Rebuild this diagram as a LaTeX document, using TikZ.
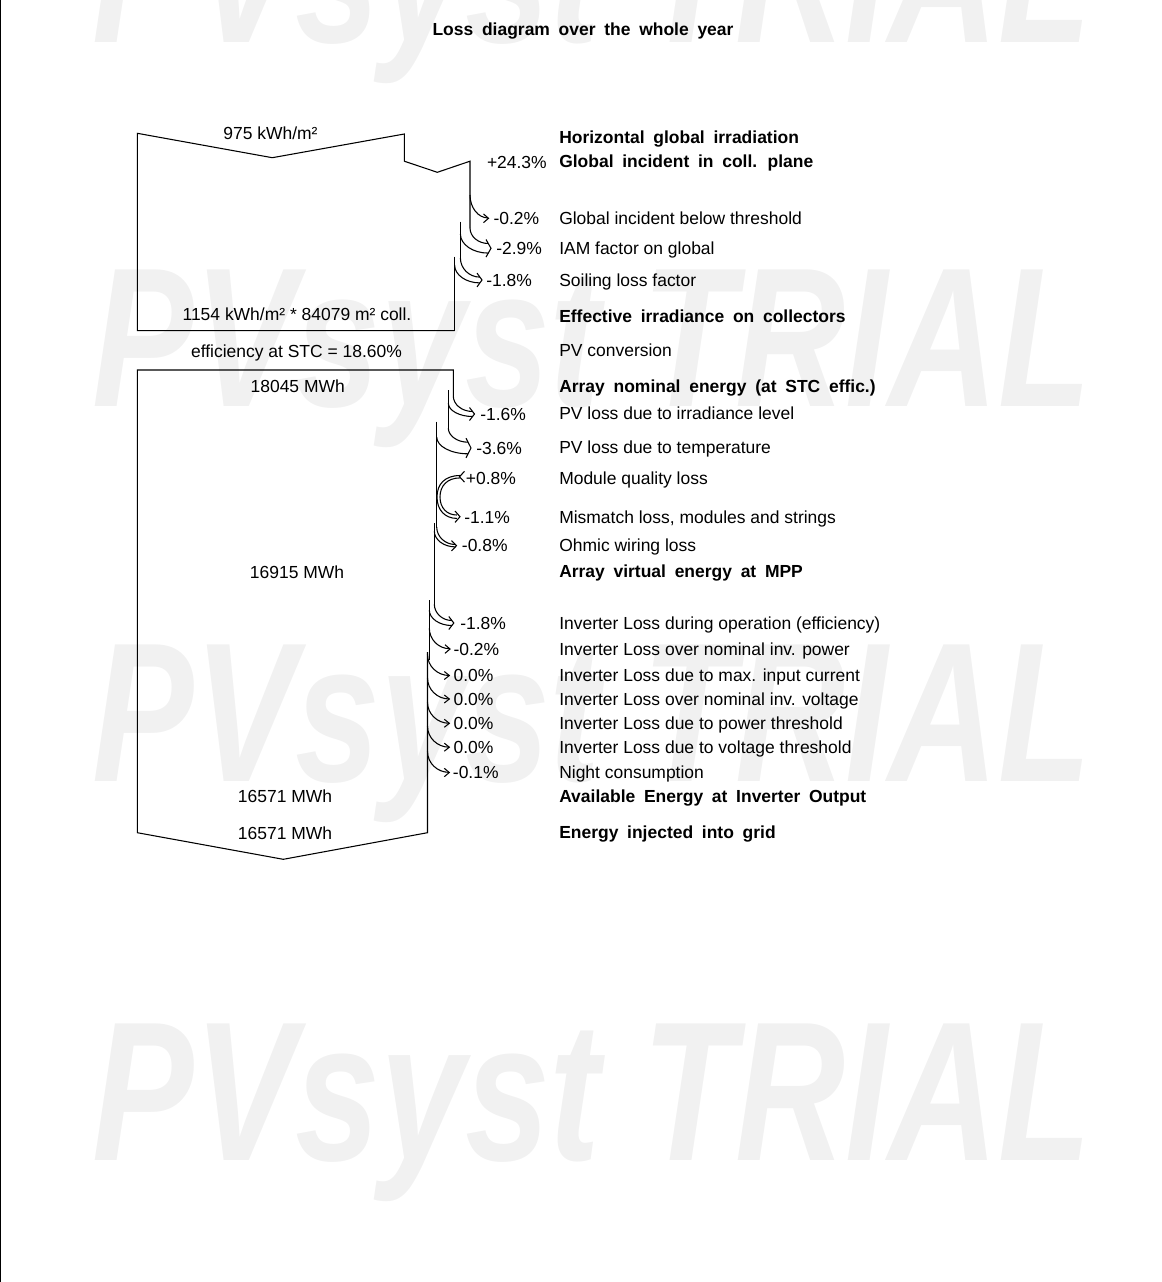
\documentclass[tikz,border=0pt]{standalone}
\usepackage{fontspec}
\setmainfont{Liberation Sans}
\newcommand\pvfs{\fontsize{13.1pt}{15pt}\selectfont}
\newcommand\pvbt[1]{{\bfseries\spaceskip=0.5em plus 0.1em\relax #1}}
\newcommand\pvwm{\scalebox{1.02}[1.33]{PVsyst TRIAL}}
\definecolor{wmgray}{RGB}{241,241,241}
\newcommand\pvloss[6]{%
  \pgfmathsetmacro\pvh{#2/2}%
  \pgfmathsetmacro\pvxe{#6-5+20/(\pvh+4)}%
  \draw[ln] (#1,#3) .. controls (#1,{#3+0.55*(#5-\pvh-#3)}) and ({#1+0.45*(\pvxe-#1)},{#5-\pvh}) .. (\pvxe,{#5-\pvh});
  \ifdim #2pt>1.5pt
    \draw[ln] ({#1-#2},#4) .. controls ({#1-#2},{#4+0.55*(#5+\pvh-#4)}) and ({#1-#2+0.45*(\pvxe-#1+#2)},{#5+\pvh}) .. (\pvxe,{#5+\pvh});
  \fi
  \draw[ln] ({#6-5},{#5-\pvh-4}) -- (#6,#5) -- ({#6-5},{#5+\pvh+4});
}
\begin{document}
\begin{tikzpicture}[x=0.75pt,y=-0.75pt,
  ln/.style={line width=0.8pt, black, line join=miter},
  txt/.style={inner sep=0pt, font=\pvfs, anchor=base west},
  pct/.style={inner sep=0pt, font=\pvfs, anchor=base west},
  val/.style={inner sep=0pt, font=\pvfs, anchor=base},
  wm/.style={inner sep=0pt, anchor=base, text=wmgray, font=\fontsize{112pt}{120pt}\selectfont\bfseries\itshape}]
\useasboundingbox (0,0) rectangle (1161,1282);
% watermark
\node[wm] (wm1) at (592,42) {\pvwm};
\node[wm] (wm2) at (592,406) {\pvwm};
\node[wm] (wm3) at (592,781) {\pvwm};
\node[wm] (wm4) at (592,1160) {\pvwm};
% left border
\draw[ln] (0.5,0) -- (0.5,1282);
% title
\node[val] (title) at (583,35) {\pvbt{Loss diagram over the whole year}};
% upper block
\draw[ln] (454.6,330.7) -- (137.3,330.7) -- (137.3,133.3) -- (272.3,157.7) -- (404.3,134) -- (404.3,161.2) -- (437.3,172.3) -- (470,161.2) -- (470,228);
\draw[ln] (460.4,221.7) -- (460.4,258);
\draw[ln] (454.6,256.7) -- (454.6,330.7);
\pvloss{470}{0.66}{195}{195}{218.3}{488.5}
\pvloss{470}{9.6}{228}{234}{248.3}{491}
\pvloss{460.4}{5.8}{258}{265}{280}{482}
% lower block
\draw[ln] (453.3,396) -- (453.3,370) -- (137.3,370) -- (137.3,832.7) -- (283.3,859.3) -- (427.5,832.7) -- (427.5,652);
\draw[ln] (448.3,390) -- (448.3,428);
\draw[ln] (436.7,421.7) -- (436.7,527);
\draw[ln] (434.3,523) -- (434.3,604);
\draw[ln] (429.3,600) -- (429.3,660);
\pvloss{453.3}{5.0}{396}{403}{414}{474.5}
\pvloss{448.3}{11.6}{428}{437}{448}{471}
\pvloss{436.7}{2.4}{527}{531}{545.7}{456.5}
\pvloss{434.3}{5.0}{604}{610}{623}{453.8}
\pvloss{429.3}{0.6}{628}{628}{649}{450}
\pvloss{427.5}{0}{654.5}{654.5}{675.5}{449.3}
\pvloss{427.5}{0}{678}{678}{699}{449.3}
\pvloss{427.5}{0}{702.3}{702.3}{723.3}{449.3}
\pvloss{427.5}{0}{726.2}{726.2}{747.2}{449.3}
\pvloss{427.5}{0.3}{751.5}{751.5}{772.5}{449.3}
% gain / mismatch C
\draw[ln] (460.2,475.5) .. controls (445,475.5) and (437,484) .. (437,497) .. controls (437,510) and (445,518.4) .. (456.8,518.4);
\draw[ln] (460.2,477.9) .. controls (447,477.9) and (440,486) .. (440,497) .. controls (440,508) and (447,515) .. (456.8,515);
\draw[ln] (464.5,471.3) -- (459.5,476.7) -- (464.5,482.1);
\draw[ln] (455,511) -- (460,516.7) -- (455,522.4);
% block values
\node[val] (v1) at (270.5,139) {975 kWh/m²};
\node[val] (v2) at (297,320) {1154 kWh/m² * 84079 m² coll.};
\node[val] (v3) at (296.5,357) {efficiency at STC = 18.60\%};
\node[val] (v4) at (297.7,392.7) {18045 MWh};
\node[val] (v5) at (297,578) {16915 MWh};
\node[val] (v6) at (285,802.7) {16571 MWh};
\node[val] (v7) at (285,839) {16571 MWh};
% percentages
\node[inner sep=0pt, font=\pvfs, anchor=base east] (p0) at (547,168) {+24.3\%};
\node[pct] (p1) at (493.3,224.3) {-0.2\%};
\node[pct] (p2) at (496,254.3) {-2.9\%};
\node[pct] (p3) at (486,286) {-1.8\%};
\node[pct] (p4) at (480,420) {-1.6\%};
\node[pct] (p5) at (476,454) {-3.6\%};
\node[pct] (p6) at (465.7,484.5) {+0.8\%};
\node[pct] (p7) at (464,523.7) {-1.1\%};
\node[pct] (p8) at (461.7,551.7) {-0.8\%};
\node[pct] (p9) at (460,629.5) {-1.8\%};
\node[pct] (p10) at (453.3,655) {-0.2\%};
\node[pct] (p11) at (453.3,681.5) {0.0\%};
\node[pct] (p12) at (453.3,705) {0.0\%};
\node[pct] (p13) at (453.3,729.3) {0.0\%};
\node[pct] (p14) at (453.3,753.2) {0.0\%};
\node[pct] (p15) at (452.7,778.5) {-0.1\%};
% descriptions
\node[txt] (d1) at (559,143.3) {\pvbt{Horizontal global irradiation}};
\node[txt] (d2) at (559,167.7) {\pvbt{Global incident in coll. plane}};
\node[txt] (d3) at (559,224.3) {Global incident below threshold};
\node[txt] (d4) at (559,254.3) {IAM factor on global};
\node[txt] (d5) at (559,286) {Soiling loss factor};
\node[txt] (d6) at (559,322.7) {\pvbt{Effective irradiance on collectors}};
\node[txt] (d7) at (559,356.5) {PV conversion};
\node[txt] (d8) at (559,392.7) {\pvbt{Array nominal energy (at STC effic.)}};
\node[txt] (d9) at (559,419.3) {PV loss due to irradiance level};
\node[txt] (d10) at (559,453.3) {PV loss due to temperature};
\node[txt] (d11) at (559,484.3) {Module quality loss};
\node[txt] (d12) at (559,523.7) {Mismatch loss, modules and strings};
\node[txt] (d13) at (559,551.7) {Ohmic wiring loss};
\node[txt] (d14) at (559,577.7) {\pvbt{Array virtual energy at MPP}};
\node[txt] (d15) at (559,629.3) {Inverter Loss during operation (efficiency)};
\node[txt] (d16) at (559,655) {Inverter Loss over nominal inv. power};
\node[txt] (d17) at (559,681) {Inverter Loss due to max. input current};
\node[txt] (d18) at (559,705) {Inverter Loss over nominal inv. voltage};
\node[txt] (d19) at (559,729.3) {Inverter Loss due to power threshold};
\node[txt] (d20) at (559,753.7) {Inverter Loss due to voltage threshold};
\node[txt] (d21) at (559,778.3) {Night consumption};
\node[txt] (d22) at (559,802.7) {\pvbt{Available Energy at Inverter Output}};
\node[txt] (d23) at (559,838.7) {\pvbt{Energy injected into grid}};
\end{tikzpicture}
\end{document}
